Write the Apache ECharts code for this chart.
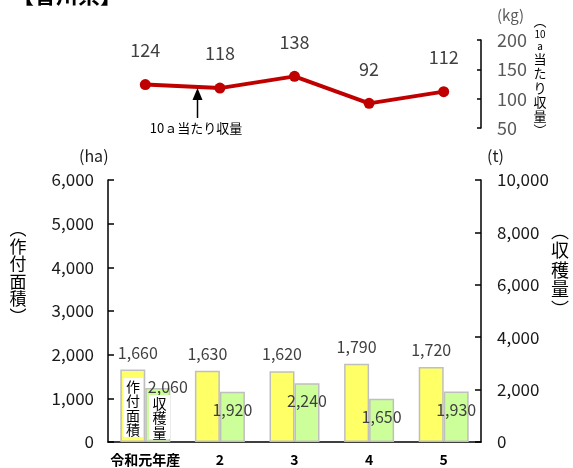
<!DOCTYPE html>
<html>
<head>
<meta charset="utf-8">
<script src="https://cdn.jsdelivr.net/npm/echarts@6/dist/echarts.min.js"></script>
<style>
  html, body { margin: 0; padding: 0; background: #fff; }
  #chart { width: 573px; height: 468px; }
</style>
</head>
<body>
<div id="chart"></div>
<script>
// 香川県：作付面積・収穫量・10a当たり収量
const categories = ['令和元年産', '2', '3', '4', '5'];
const yieldPer10a = [124, 118, 138, 92, 112];      // kg
const plantedArea = [1660, 1630, 1620, 1790, 1720]; // ha
const harvest = [2060, 1920, 2240, 1650, 1930];     // t

const yieldTicks = [50, 200, 50];        // min, max, interval
const areaTicks = [0, 6000, 1000];
const harvestTicks = [0, 10000, 2000];

const FONT = '"Noto Sans CJK JP", "Noto Sans", sans-serif';
const fmt = v => v.toLocaleString('en-US');

const chart = echarts.init(document.getElementById('chart'), null, { renderer: 'canvas' });

const areaData = plantedArea.map((v, i) => i === 0
  ? { value: v, label: { offset: [5, 0] } }
  : v);
const harvestData = harvest.map((v, i) => i === 0
  ? { value: v, label: { offset: [10, -19] } }
  : v);

const option = {
  animation: false,
  textStyle: { fontFamily: FONT },
  grid: [
    { left: 108, right: 92, top: 40, height: 88 },
    { left: 108, right: 92, top: 180, bottom: 26 }
  ],
  xAxis: [
    {
      gridIndex: 0, type: 'category', data: categories, boundaryGap: true,
      axisLine: { show: false }, axisTick: { show: false }, axisLabel: { show: false }
    },
    {
      gridIndex: 1, type: 'category', data: categories, boundaryGap: true,
      axisLine: { show: true, lineStyle: { color: '#000', width: 1.5 } },
      axisTick: { show: false },
      axisLabel: { interval: 0, color: '#000', fontWeight: 'bold', fontSize: 14, margin: 11, fontFamily: FONT }
    }
  ],
  yAxis: [
    {
      gridIndex: 0, type: 'value', position: 'right',
      min: yieldTicks[0], max: yieldTicks[1], interval: yieldTicks[2],
      axisLine: { show: true, lineStyle: { color: '#000', width: 1.5 } },
      axisTick: { show: true, inside: true, length: 4, lineStyle: { color: '#000', width: 1.5 } },
      splitLine: { show: false },
      axisLabel: { color: '#595959', fontSize: 18, margin: 16, fontFamily: FONT }
    },
    {
      gridIndex: 1, type: 'value', position: 'left',
      min: areaTicks[0], max: areaTicks[1], interval: areaTicks[2],
      axisLine: { show: true, lineStyle: { color: '#000', width: 1.5 } },
      axisTick: { show: true, inside: true, length: 6, lineStyle: { color: '#000', width: 1.5 } },
      splitLine: { show: false },
      axisLabel: { color: '#1a1a1a', fontSize: 17, margin: 14, formatter: fmt, fontFamily: FONT }
    },
    {
      gridIndex: 1, type: 'value', position: 'right',
      min: harvestTicks[0], max: harvestTicks[1], interval: harvestTicks[2],
      axisLine: { show: true, lineStyle: { color: '#000', width: 1.5 } },
      axisTick: { show: true, inside: true, length: 6, lineStyle: { color: '#000', width: 1.5 } },
      splitLine: { show: false },
      axisLabel: { color: '#1a1a1a', fontSize: 17, margin: 16, formatter: fmt, fontFamily: FONT }
    }
  ],
  series: [
    {
      name: '10a当たり収量', type: 'line', xAxisIndex: 0, yAxisIndex: 0,
      data: yieldPer10a,
      symbol: 'circle', symbolSize: 11,
      lineStyle: { color: '#c00000', width: 4 },
      itemStyle: { color: '#c00000' },
      label: { show: true, position: 'top', distance: 20, color: '#404040', fontSize: 18, fontFamily: FONT }
    },
    {
      name: '作付面積', type: 'bar', xAxisIndex: 1, yAxisIndex: 1,
      data: areaData, barWidth: 25, barGap: '0%',
      itemStyle: { color: '#ffff66', borderColor: '#bfbfbf', borderWidth: 1.5 },
      label: { show: true, position: 'top', distance: 9, color: '#404040', fontSize: 16, formatter: p => fmt(p.value), fontFamily: FONT }
    },
    {
      name: '収穫量', type: 'bar', xAxisIndex: 1, yAxisIndex: 2,
      data: harvestData, barWidth: 25, barGap: '0%',
      itemStyle: { color: '#ccff99', borderColor: '#bfbfbf', borderWidth: 1.5 },
      label: { show: true, position: 'insideTop', distance: 10, color: '#404040', fontSize: 16, formatter: p => fmt(p.value), fontFamily: FONT }
    }
  ],
  graphic: [
    // prefecture heading
    { type: 'text', left: 12, top: -16, z: 100, style: { text: '【香川県】', fill: '#000', font: 'bold 22px ' + FONT } },
    // units
    { type: 'text', left: 497, top: 8, z: 100, style: { text: '(kg)', fill: '#595959', font: '15px ' + FONT } },
    { type: 'text', left: 79, top: 148, z: 100, style: { text: '(ha)', fill: '#1a1a1a', font: '16px ' + FONT } },
    { type: 'text', left: 487, top: 148, z: 100, style: { text: '(t)', fill: '#1a1a1a', font: '16px ' + FONT } },
    // vertical axis titles
    {
      type: 'text', x: 540, y: 14, z: 100,
      style: {
        text: '︵\n{s|10}\n{s|a}\n当\nた\nり\n収\n量\n︶',
        align: 'center', fill: '#000', font: '13px ' + FONT, lineHeight: 14.2,
        rich: { s: { fontSize: 10, lineHeight: 12, fill: '#000', fontFamily: FONT } }
      }
    },
    {
      type: 'text', x: 18, y: 220, z: 100,
      style: { text: '︵\n作\n付\n面\n積\n︶', align: 'center', fill: '#000', font: '17px ' + FONT, lineHeight: 17.5 }
    },
    {
      type: 'text', x: 560, y: 221, z: 100,
      style: { text: '︵\n収\n穫\n量\n︶', align: 'center', fill: '#000', font: '18px ' + FONT, lineHeight: 19.5 }
    },
    // annotation arrow for the line series
    { type: 'line', z: 100, shape: { x1: 197.5, y1: 118, x2: 197.5, y2: 99 }, style: { stroke: '#000', lineWidth: 1.5 } },
    { type: 'polygon', z: 100, shape: { points: [[197.5, 88], [192.5, 100], [202.5, 100]] }, style: { fill: '#000' } },
    { type: 'text', x: 196, y: 128, z: 100, style: { text: '10ａ当たり収量', align: 'center', verticalAlign: 'middle', fill: '#000', font: '13px ' + FONT } },
    // in-bar series captions
    { type: 'rect', z: 100, shape: { x: 123, y: 378, width: 20, height: 59 }, style: { fill: '#fff' } },
    { type: 'text', x: 133, y: 379, z: 101, style: { text: '作\n付\n面\n積', align: 'center', fill: '#000', font: '14px ' + FONT, lineHeight: 14.5 } },
    { type: 'rect', z: 100, shape: { x: 149, y: 395, width: 21, height: 44 }, style: { fill: '#fff' } },
    { type: 'text', x: 159.5, y: 396, z: 101, style: { text: '収\n穫\n量', align: 'center', fill: '#000', font: '14px ' + FONT, lineHeight: 14.5 } }
  ]
};

chart.setOption(option);
</script>
</body>
</html>
